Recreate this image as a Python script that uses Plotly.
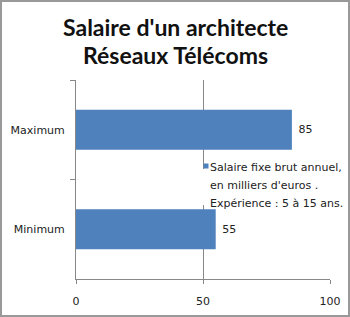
import plotly.graph_objects as go

categories = ["Maximum", "Minimum"]
values = [85, 55]
x_ticks = [0, 50, 100]
title_lines = ["Salaire d'un architecte", "Réseaux Télécoms"]
legend_lines = ["Salaire fixe brut annuel,", "en milliers d'euros .", "Expérience : 5 à 15 ans."]

W, H = 350, 317
ml, mr, mt, mb = 76, 20, 80, 38
pw, ph = W - ml - mr, H - mt - mb


def px_x(p):
    return (p - ml) / pw


def px_y(p):
    return 1 - (p - mt) / ph


fig = go.Figure()
fig.add_trace(go.Bar(
    y=categories, x=values, orientation="h",
    marker=dict(color="#4F81BD", line=dict(width=0)),
    texttemplate="\u00a0%{x}", textposition="outside",
    textfont=dict(family="DejaVu Sans", size=11, color="#222"),
    showlegend=False, cliponaxis=False,
))

annotations = []
for i, line in enumerate(title_lines):
    annotations.append(dict(text="<b>" + line + "</b>", xref="paper", yref="paper",
                            x=px_x(175), y=px_y(27 + i * 28), xanchor="center", yanchor="middle",
                            showarrow=False, font=dict(family="Lato", size=23, color="#111")))
for i, line in enumerate(legend_lines):
    annotations.append(dict(text=line, xref="paper", yref="paper",
                            x=px_x(209), y=px_y(167 + i * 18), xanchor="left", yanchor="middle",
                            showarrow=False, borderpad=0,
                            font=dict(family="DejaVu Sans", size=11, color="#222")))

fig.update_layout(
    width=W, height=H,
    margin=dict(l=ml, r=mr, t=mt, b=mb, autoexpand=False),
    paper_bgcolor="white", plot_bgcolor="white",
    bargap=0.6,
    showlegend=False,
    annotations=annotations,
    xaxis=dict(range=[0, 100], tickvals=x_ticks, showgrid=True, gridcolor="#888", gridwidth=1,
               showline=True, linecolor="#888", linewidth=1, ticks="outside", ticklen=4,
               tickcolor="#888", zeroline=False, ticklabelstandoff=8,
               tickfont=dict(family="DejaVu Sans", size=11, color="#222")),
    yaxis=dict(autorange="reversed", showline=True, linecolor="#888", linewidth=1,
               ticks="outside", tickson="boundaries", ticklen=5, tickcolor="#888",
               showgrid=False, tickfont=dict(family="DejaVu Sans", size=11, color="#222"),
               ticklabelstandoff=8),
    shapes=[
        dict(type="rect", xref="paper", yref="paper",
             x0=px_x(1), x1=px_x(349), y0=px_y(316), y1=px_y(1),
             line=dict(color="#999", width=2), layer="above"),
        dict(type="rect", xref="paper", yref="paper",
             x0=px_x(199), x1=px_x(208), y0=px_y(205), y1=px_y(169),
             fillcolor="white", line=dict(width=0), layer="above"),
        dict(type="rect", xref="paper", yref="paper",
             x0=px_x(203.5), x1=px_x(208.5), y0=px_y(168.5), y1=px_y(163.5),
             fillcolor="#4F81BD", line=dict(width=0), layer="above"),
    ],
)

fig.write_html("out.html")
